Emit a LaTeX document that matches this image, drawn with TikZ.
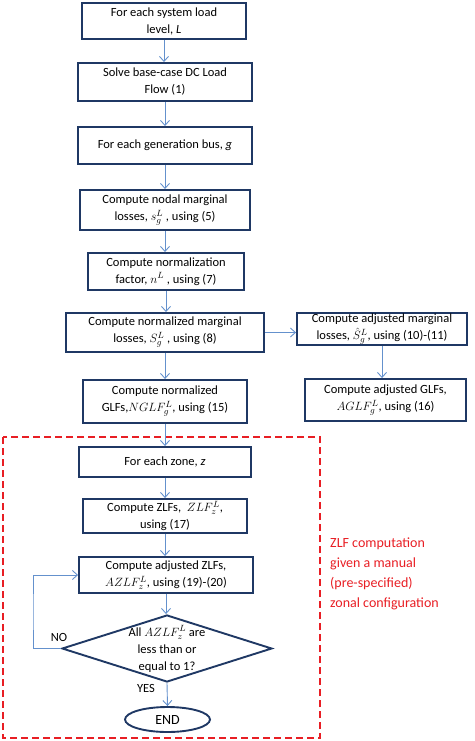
\documentclass[tikz,border=0pt]{standalone}
\usepackage{fontspec}
\setmainfont{Carlito}
\usetikzlibrary{shapes.geometric,arrows.meta}
\definecolor{boxline}{RGB}{31,56,100}
\definecolor{arrowblue}{RGB}{100,145,205}
\definecolor{zonered}{RGB}{232,30,36}
\begin{document}
\begin{tikzpicture}[x=1pt,y=-1pt,
  stepbox/.style={draw=boxline,line width=1.9pt,rectangle,align=center,inner sep=1pt,
    font=\fontsize{12.5}{17}\selectfont},
  flow/.style={draw=arrowblue,line width=0.9pt,-{Straight Barb[length=5pt,width=9pt]}},
  lbl/.style={font=\fontsize{12.5}{17}\selectfont,inner sep=0pt}
]
\useasboundingbox (0,0) rectangle (474,741);
% red dashed zone
\draw[zonered,line width=1.8pt,dash pattern=on 7pt off 4pt] (3,437) rectangle (320,738);
\node[zonered,align=left,anchor=north west,inner sep=0pt,font=\fontsize{14}{20}\selectfont] (zlfnote) at (330,538)
  {ZLF computation\\given a manual\\(pre-specified)\\zonal configuration};

% main column
\node[stepbox,minimum width=164pt,minimum height=36pt] (b1) at (164,21) {For each system load\\level, \textit{L}};
\node[stepbox,minimum width=174pt,minimum height=38pt] (b2) at (165,82) {Solve base-case DC Load\\Flow (1)};
\node[stepbox,minimum width=174pt,minimum height=37pt] (b3) at (165,145.5) {For each generation bus, \textit{g}};
\node[stepbox,minimum width=170pt,minimum height=40pt] (b4) at (165,210) {Compute nodal marginal\\losses, $s_g^L$ , using (5)};
\node[stepbox,minimum width=156pt,minimum height=37pt] (b5) at (166,271.5) {Compute normalization\\factor, $n^L$ , using (7)};
\node[stepbox,minimum width=198pt,minimum height=39pt] (b6) at (165,332.5) {Compute normalized marginal\\losses, $S_g^L$ , using (8)};
\node[stepbox,minimum width=164pt,minimum height=43pt] (b7) at (165,401.5) {Compute normalized\\GLFs,$NGLF_g^L$, using (15)};
\node[stepbox,minimum width=172pt,minimum height=30pt] (b8) at (165,462) {For each zone, \textit{z}};
\node[stepbox,minimum width=164pt,minimum height=34pt] (b9) at (165,516) {Compute ZLFs, \ $ZLF_z^L$,\\using (17)};
\node[stepbox,minimum width=174pt,minimum height=36pt] (b10) at (166,575) {Compute adjusted ZLFs,\\$AZLF_z^L$, using (19)-(20)};

% right column
\node[stepbox,minimum width=170pt,minimum height=28pt] (r1) at (382,329) {Compute adjusted marginal\\losses, $\hat{S}_g^L$, using (10)-(11)};
\node[stepbox,minimum width=161pt,minimum height=42pt] (r2) at (385.5,400) {Compute adjusted GLFs,\\$AGLF_g^L$, using (16)};

% decision
\node[draw=boxline,line width=1.9pt,diamond,minimum width=210pt,minimum height=67pt,inner sep=0pt] (dec) at (167,648.5) {};
\node[lbl,align=center] (dectext) at (167,649) {All $AZLF_z^L$ are\\less than or\\equal to 1?};
\node[draw=boxline,line width=1.9pt,ellipse,minimum width=85pt,minimum height=25pt,inner sep=0pt,
  font=\fontsize{14}{16}\selectfont] (end) at (167.5,719.5) {END};

\node[lbl] (nolbl) at (59,637) {NO};
\node[lbl] (yeslbl) at (146,688) {YES};
\coordinate (loop) at (33,612);

% connectors
\draw[flow] (b1.south) -- (b1.south |- b2.north);
\draw[flow] (b2.south) -- (b2.south |- b3.north);
\draw[flow] (b3.south) -- (b3.south |- b4.north);
\draw[flow] (b4.south) -- (b4.south |- b5.north);
\draw[flow] (b5.south) -- (b5.south |- b6.north);
\draw[flow] (b6.south) -- (b6.south |- b7.north);
\draw[flow] (b7.south) -- (b7.south |- b8.north);
\draw[flow] (b8.south) -- (b8.south |- b9.north);
\draw[flow] (b9.south) -- (b9.south |- b10.north);
\draw[flow] (b10.south) -- (b10.south |- dec.north);
\draw[flow] (dec.south) -- (end.north);
\draw[flow] (b6.east) -- (b6.east -| r1.west);
\draw[flow] (r1.south) -- (r1.south |- r2.north);
\draw[flow] (dec.west) -| (loop) |- (b10.west);
\end{tikzpicture}
\end{document}
